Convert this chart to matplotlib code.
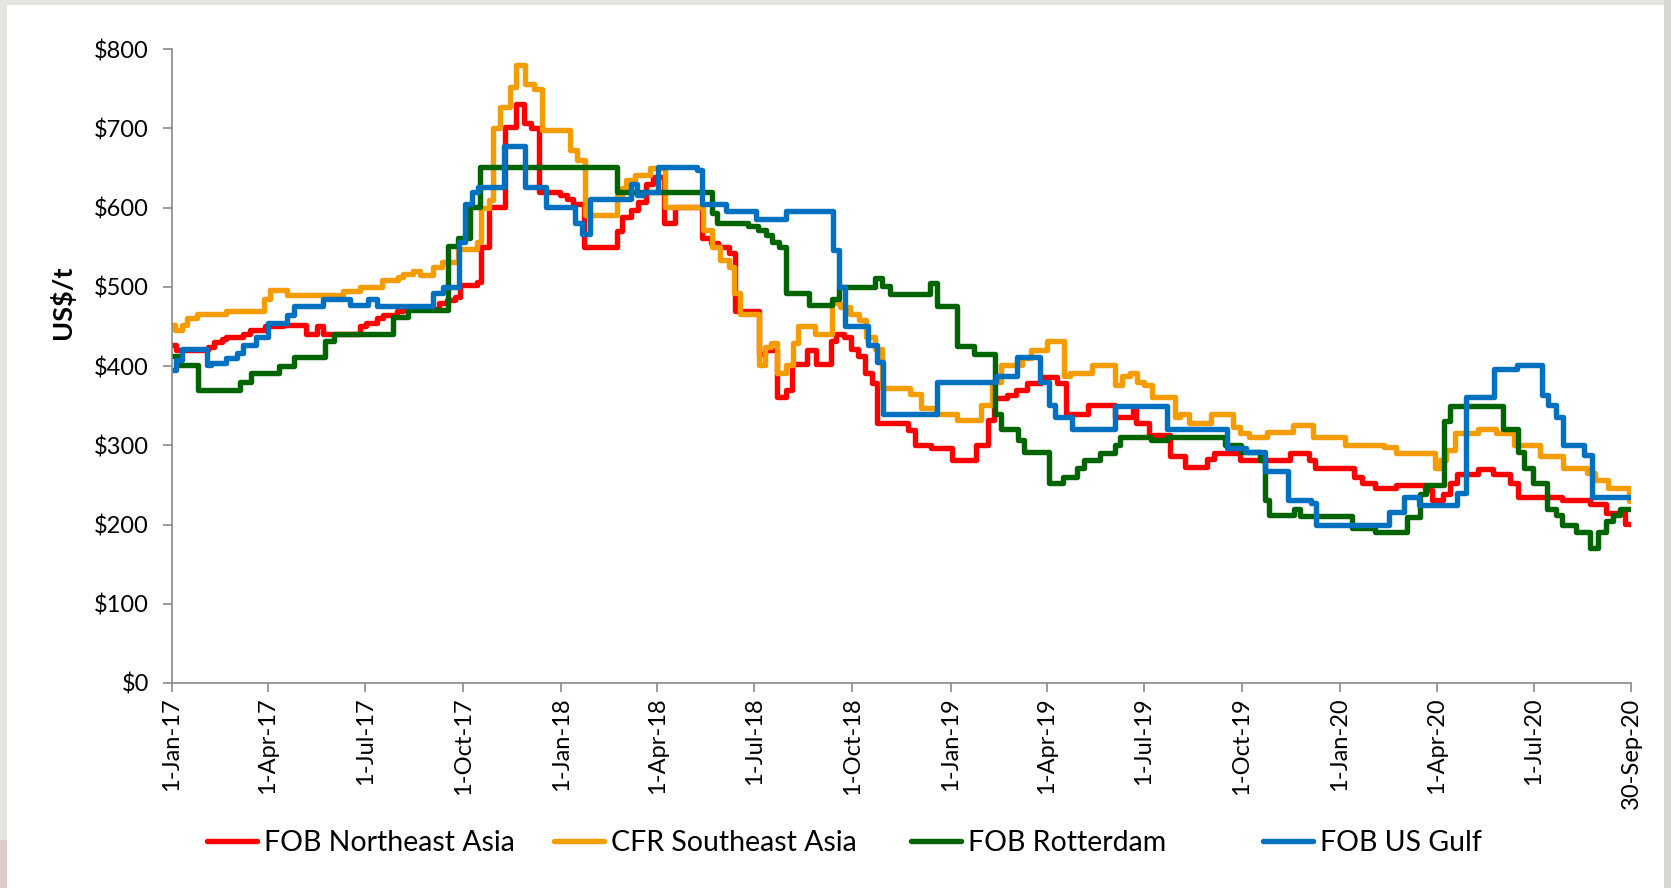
#!/usr/bin/env python3

import matplotlib
matplotlib.use("Agg")
import matplotlib.pyplot as plt
import numpy as np
import pandas as pd
from matplotlib.lines import Line2D
from matplotlib.patches import Rectangle
from matplotlib.ticker import FuncFormatter, MultipleLocator

plt.rcParams["font.family"] = ["Lato", "DejaVu Sans"]

START = pd.Timestamp("2017-01-01")
END = pd.Timestamp("2020-09-30")

SERIES_NAMES = ["FOB Northeast Asia", "CFR Southeast Asia", "FOB Rotterdam", "FOB US Gulf"]
SERIES_COLORS = ["#FF0000", "#F59C00", "#006400", "#0070C0"]

# price assessments, stored as change points: days since 1-Jan-17 -> US$/t
nea_day = [0, 4, 34, 39, 47, 51, 67, 73, 87, 104, 126, 136, 142, 176, 182, 192, 198, 211, 217, 250,
           258, 265, 270, 286, 290, 297, 312, 323, 330, 337, 344, 364, 370, 376, 386, 417, 422, 430, 437, 444,
           451, 461, 472, 497, 505, 512, 522, 528, 550, 556, 567, 576, 581, 595, 604, 618, 623, 630, 637, 643,
           650, 656, 661, 690, 697, 712, 731, 754, 765, 771, 783, 791, 802, 815, 830, 838, 859, 884, 901, 904,
           916, 936, 950, 970, 977, 1001, 1048, 1066, 1072, 1108, 1116, 1128, 1148, 1175, 1181, 1192, 1198, 1205, 1225, 1239,
           1255, 1262, 1303, 1330, 1345, 1362]
nea_usd = [426, 420, 424, 430, 434, 437, 441, 445, 450, 452, 441, 450, 441, 450, 454, 460, 464, 469, 472, 479,
           483, 487, 502, 506, 550, 601, 702, 731, 706, 700, 620, 616, 611, 605, 550, 570, 588, 597, 607, 630,
           639, 580, 601, 561, 555, 550, 542, 470, 415, 420, 361, 370, 402, 420, 402, 431, 441, 437, 422, 412,
           391, 378, 328, 319, 300, 296, 281, 300, 332, 359, 363, 370, 378, 386, 378, 340, 351, 336, 346, 328,
           313, 286, 273, 283, 290, 281, 290, 281, 271, 260, 252, 246, 250, 243, 231, 239, 252, 264, 270, 264,
           252, 235, 231, 226, 214, 201]

sea_day = [0, 3, 9, 14, 23, 51, 86, 92, 108, 160, 176, 197, 212, 217, 226, 233, 245, 253, 268, 286,
           290, 297, 301, 308, 317, 323, 331, 339, 347, 373, 380, 387, 417, 422, 426, 434, 448, 462, 498, 506,
           514, 522, 527, 533, 550, 556, 562, 567, 576, 582, 587, 603, 619, 626, 636, 644, 651, 659, 666, 692,
           702, 716, 736, 759, 769, 777, 797, 805, 820, 836, 842, 863, 884, 891, 898, 905, 911, 919, 940, 945,
           954, 974, 995, 1001, 1010, 1027, 1051, 1070, 1100, 1136, 1148, 1184, 1189, 1195, 1203, 1225, 1241, 1258, 1283, 1304,
           1327, 1334, 1346, 1366]
sea_usd = [452, 445, 452, 460, 466, 470, 485, 496, 490, 495, 500, 508, 512, 516, 520, 515, 525, 531, 548, 556,
           600, 609, 700, 727, 752, 780, 756, 750, 698, 672, 660, 590, 614, 625, 635, 641, 650, 601, 571, 550,
           534, 525, 492, 466, 401, 424, 429, 391, 401, 429, 450, 441, 479, 475, 466, 458, 437, 422, 372, 365,
           347, 340, 332, 351, 380, 401, 410, 420, 431, 387, 391, 401, 376, 387, 391, 380, 376, 361, 336, 340,
           328, 340, 323, 315, 311, 317, 325, 311, 300, 298, 290, 271, 281, 294, 315, 320, 315, 300, 286, 271,
           265, 256, 246, 230]

rdam_day = [0, 7, 24, 64, 74, 100, 114, 143, 152, 207, 221, 259, 268, 279, 289, 417, 506, 511, 540, 549,
            557, 563, 569, 576, 597, 619, 625, 659, 666, 673, 711, 717, 736, 752, 772, 777, 793, 799, 822, 835,
            849, 855, 870, 884, 889, 918, 933, 987, 1002, 1020, 1025, 1029, 1052, 1058, 1106, 1128, 1158, 1170, 1176, 1193,
            1198, 1248, 1262, 1268, 1276, 1289, 1298, 1303, 1316, 1330, 1337, 1345, 1351, 1358]
rdam_usd = [412, 401, 370, 380, 391, 400, 411, 431, 441, 462, 471, 551, 561, 601, 651, 620, 593, 580, 577, 571,
            565, 557, 550, 492, 477, 485, 500, 511, 501, 491, 505, 476, 425, 415, 340, 320, 307, 292, 252, 260,
            271, 281, 290, 300, 311, 307, 311, 300, 292, 281, 231, 212, 220, 211, 195, 190, 210, 239, 250, 330,
            350, 321, 292, 271, 252, 220, 212, 200, 190, 170, 191, 204, 212, 220]

gulf_day = [0, 4, 9, 33, 37, 51, 61, 67, 79, 90, 108, 114, 142, 167, 184, 192, 245, 254, 269, 275,
            281, 287, 311, 331, 351, 378, 384, 392, 430, 436, 442, 456, 492, 497, 519, 548, 576, 620, 625, 631,
            653, 661, 667, 717, 773, 792, 814, 822, 828, 844, 884, 933, 989, 1007, 1025, 1046, 1068, 1073, 1141, 1155,
            1169, 1205, 1213, 1240, 1261, 1285, 1290, 1298, 1304, 1324, 1331]
gulf_usd = [395, 408, 421, 401, 404, 410, 416, 426, 437, 454, 464, 476, 485, 477, 485, 476, 492, 500, 556, 605,
            620, 626, 677, 626, 601, 580, 567, 611, 630, 616, 620, 651, 647, 605, 596, 586, 596, 546, 500, 450,
            426, 405, 340, 380, 387, 411, 380, 351, 336, 321, 350, 320, 296, 292, 267, 231, 227, 200, 216, 235,
            225, 240, 361, 396, 401, 363, 351, 336, 300, 288, 235]

TICK_DATES = ["2017-01-01", "2017-04-01", "2017-07-01", "2017-10-01",
              "2018-01-01", "2018-04-01", "2018-07-01", "2018-10-01",
              "2019-01-01", "2019-04-01", "2019-07-01", "2019-10-01",
              "2020-01-01", "2020-04-01", "2020-07-01", "2020-09-30"]

W, H = 1671, 888
AXIS_GREY = "#898989"
LW = 3.9


def step_xy(days, values):
    """Change points -> arrays for a post-step line running to the last date."""
    x = (START + pd.to_timedelta(days, unit="D")).to_numpy()
    x = np.append(x, END.to_datetime64())
    y = np.append(np.asarray(values, dtype=float), values[-1])
    return x, y


def date_label(d: pd.Timestamp) -> str:
    return f"{d.day}-{d.strftime('%b-%y')}"


def plot_all():
    fig = plt.figure(figsize=(W / 100, H / 100), dpi=100, facecolor="#e6e4e0")
    # white slide panel with thin grey margins (behind the axes)
    for xy, w, h, fc in [((7 / W, 0), (1664 - 7) / W, 1 - 5 / H, "white"),
                         ((1664 / W, 0), 7 / W, 1, "#d8d6d2"),
                         ((0, 0), 7 / W, 48 / H, "#dccbc6")]:
        fig.patches.append(Rectangle(xy, w, h, transform=fig.transFigure,
                                     facecolor=fc, edgecolor="none", zorder=-5))

    ax = fig.add_axes([172 / W, 1 - 683 / H, (1631 - 172) / W, (683 - 49) / H])
    ax.set_zorder(1)
    ax.patch.set_alpha(0)

    all_series = [(nea_day, nea_usd), (sea_day, sea_usd), (rdam_day, rdam_usd), (gulf_day, gulf_usd)]
    for (days, values), color in zip(all_series, SERIES_COLORS):
        x, y = step_xy(days, values)
        ax.step(x, y, where="post", color=color, lw=LW, solid_joinstyle="round")

    ticks = [pd.Timestamp(d) for d in TICK_DATES]
    ax.set_xlim(START, END)
    ax.set_xticks(ticks)
    ax.set_xticklabels([date_label(d) for d in ticks], rotation=90, ha="center", va="top")
    ax.set_ylim(0, 800)
    ax.yaxis.set_major_locator(MultipleLocator(100))
    ax.yaxis.set_major_formatter(FuncFormatter(lambda v, _: f"${v:.0f}"))

    for side in ("top", "right"):
        ax.spines[side].set_visible(False)
    for side in ("left", "bottom"):
        ax.spines[side].set_color(AXIS_GREY)
        ax.spines[side].set_linewidth(1.2)
    ax.tick_params(axis="both", direction="out", length=6.5, width=1.2, color=AXIS_GREY,
                   labelsize=17, labelcolor="black")
    ax.tick_params(axis="y", pad=10)
    ax.tick_params(axis="x", pad=4)

    fig.text(62 / W, 1 - 302 / H, "US$/t", rotation=90, ha="center", va="center",
             fontsize=19.5, fontweight="bold")

    # Excel spreads legend entries over equal-width slots
    for name, color, x0 in zip(SERIES_NAMES, SERIES_COLORS, [207, 554, 911, 1263]):
        handle = Line2D([], [], color=color, lw=LW, solid_capstyle="round")
        fig.legend([handle], [name], loc="center left", bbox_to_anchor=(x0 / W, 1 - 843 / H),
                   frameon=False, fontsize=20.5, handlelength=1.75, handletextpad=0.25,
                   borderpad=0, borderaxespad=0)

    fig.savefig("out.png", dpi=100, facecolor=fig.get_facecolor())
    plt.close(fig)


if __name__ == "__main__":
    plot_all()
